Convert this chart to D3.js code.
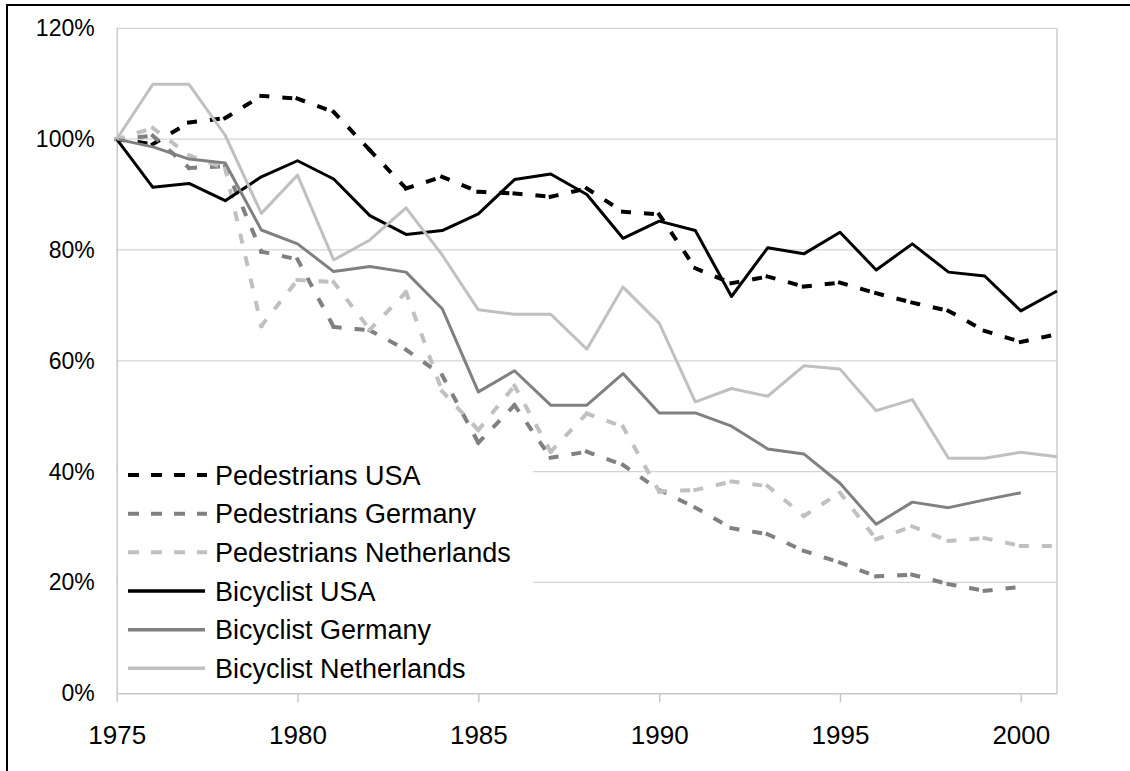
<!DOCTYPE html>
<html>
<head>
<meta charset="utf-8">
<script src="https://cdn.jsdelivr.net/npm/d3@7"></script>
<style>
  html, body { margin: 0; padding: 0; background: #fff; }
  svg { display: block; font-family: "Liberation Sans", Arial, sans-serif; }
</style>
</head>
<body>
<svg id="chart" width="1130" height="771"></svg>
<script>
// ---------- data ----------
const years = [1975,1976,1977,1978,1979,1980,1981,1982,1983,1984,1985,1986,1987,1988,1989,1990,1991,1992,1993,1994,1995,1996,1997,1998,1999,2000,2001];

const pedestriansUSA = [100, 99.1, 103.0, 103.8, 107.8, 107.3, 104.9, 98.0, 91.1, 93.2, 90.5, 90.2, 89.6, 91.1, 86.9, 86.4, 76.7, 74.0, 75.2, 73.4, 74.1, 72.2, 70.5, 69.0, 65.4, 63.4, 64.8];
const pedestriansGermany = [100, 100.6, 94.8, 95.1, 79.7, 78.3, 66.1, 65.5, 62.0, 57.4, 45.2, 52.0, 42.5, 43.6, 41.2, 36.7, 33.5, 29.8, 28.7, 25.7, 23.6, 21.1, 21.4, 19.7, 18.5, 19.2, null];
const pedestriansNetherlands = [100, 102.0, 97.1, 94.7, 66.3, 74.6, 74.2, 65.6, 72.4, 54.5, 47.5, 55.5, 43.6, 50.5, 48.1, 36.4, 36.7, 38.2, 37.4, 32.0, 36.2, 27.8, 30.1, 27.5, 28.0, 26.6, 26.6];
const bicyclistUSA = [100, 91.3, 92.0, 88.9, 93.2, 96.1, 92.8, 86.2, 82.8, 83.5, 86.5, 92.7, 93.7, 90.0, 82.1, 85.2, 83.5, 71.6, 80.4, 79.3, 83.2, 76.4, 81.1, 76.0, 75.3, 69.0, 72.6];
const bicyclistGermany = [100, 98.6, 96.4, 95.7, 83.6, 81.1, 76.1, 77.0, 76.0, 69.4, 54.4, 58.2, 52.0, 52.0, 57.7, 50.6, 50.6, 48.2, 44.1, 43.2, 37.9, 30.5, 34.5, 33.5, 34.9, 36.2, null];
const bicyclistNetherlands = [100, 109.9, 109.9, 100.7, 86.6, 93.5, 78.2, 81.8, 87.6, 79.1, 69.2, 68.4, 68.4, 62.1, 73.3, 66.8, 52.6, 55.0, 53.6, 59.1, 58.5, 51.0, 53.0, 42.4, 42.4, 43.5, 42.7];

const seriesNames = ["Pedestrians USA", "Pedestrians Germany", "Pedestrians Netherlands", "Bicyclist USA", "Bicyclist Germany", "Bicyclist Netherlands"];
const xTickValues = [1975, 1980, 1985, 1990, 1995, 2000];
const xTickLabels = ["1975", "1980", "1985", "1990", "1995", "2000"];
const yTickValues = [0, 20, 40, 60, 80, 100, 120];
const yTickLabels = ["0%", "20%", "40%", "60%", "80%", "100%", "120%"];

// ---------- styling ----------
const seriesStyle = [
  { color: "#000000", dashed: true },
  { color: "#808080", dashed: true },
  { color: "#c0c0c0", dashed: true },
  { color: "#000000", dashed: false },
  { color: "#808080", dashed: false },
  { color: "#c0c0c0", dashed: false }
];
const seriesValues = [pedestriansUSA, pedestriansGermany, pedestriansNetherlands, bicyclistUSA, bicyclistGermany, bicyclistNetherlands];

const svg = d3.select("#chart");

// outer frame
svg.append("rect").attr("x", 7).attr("y", 5).attr("width", 1140).attr("height", 790)
  .attr("fill", "#fff").attr("stroke", "#000").attr("stroke-width", 2);

const plotLeft = 116.7, plotRight = 1057, plotTop = 28.3, plotBottom = 693.3;
const x = d3.scaleLinear().domain([1975, 2001]).range([plotLeft, plotRight]);
const y = d3.scaleLinear().domain([0, 120]).range([plotBottom, plotTop]);

// gridlines
svg.append("g").selectAll("line").data(yTickValues.filter(v => v > 0)).join("line")
  .attr("x1", plotLeft).attr("x2", plotRight)
  .attr("y1", d => y(d)).attr("y2", d => y(d))
  .attr("stroke", "#d4d4d4").attr("stroke-width", 1.2);

// right plot border
svg.append("line").attr("x1", plotRight).attr("x2", plotRight).attr("y1", plotTop).attr("y2", plotBottom)
  .attr("stroke", "#d9d9d9").attr("stroke-width", 2);

// x axis
const xAxis = svg.append("g").attr("transform", `translate(0,${plotBottom})`)
  .call(d3.axisBottom(x).tickValues(xTickValues).tickSize(9).tickSizeOuter(0).tickPadding(23)
    .tickFormat((d, i) => xTickLabels[i]));
xAxis.select(".domain").attr("stroke", "#c8c8c8").attr("stroke-width", 1.5);
xAxis.selectAll(".tick line").attr("stroke", "#c8c8c8").attr("stroke-width", 1.5);
xAxis.selectAll("text").attr("font-size", 26).attr("fill", "#000")
  .attr("font-family", "Liberation Sans, Arial, sans-serif");

// y axis
const yAxis = svg.append("g").attr("transform", `translate(${plotLeft},0)`)
  .call(d3.axisLeft(y).tickValues(yTickValues).tickSize(0).tickPadding(22)
    .tickFormat((d, i) => yTickLabels[i]));
yAxis.select(".domain").attr("stroke", "#c8c8c8").attr("stroke-width", 1.5);
yAxis.selectAll("text").attr("font-size", 23).attr("fill", "#000")
  .attr("font-family", "Liberation Sans, Arial, sans-serif");

// lines
const line = d3.line()
  .defined(d => d.v !== null)
  .x(d => x(d.year)).y(d => y(d.v));

seriesValues.forEach((vals, i) => {
  const st = seriesStyle[i];
  const pts = years.map((yr, j) => ({ year: yr, v: vals[j] }));
  if (!st.dashed) {
    svg.append("path").datum(pts)
      .attr("fill", "none")
      .attr("stroke", st.color)
      .attr("stroke-width", 3)
      .attr("stroke-linejoin", "round")
      .attr("d", line);
  } else {
    // dash pattern restarts at each data point, like the source spreadsheet
    const segs = d3.pairs(pts).filter(([a, b]) => a.v !== null && b.v !== null);
    svg.append("g").selectAll("path").data(segs).join("path")
      .attr("fill", "none")
      .attr("stroke", st.color)
      .attr("stroke-width", 4)
      .attr("stroke-linecap", "square")
      .attr("stroke-dasharray", "6,17")
      .attr("d", d => line(d));
  }
});

// legend
const legend = svg.append("g");
legend.append("rect").attr("x", 118).attr("y", 452).attr("width", 415).attr("height", 236).attr("fill", "#fff");
const rowY0 = 475, rowStep = 38.67;
seriesNames.forEach((name, i) => {
  const st = seriesStyle[i];
  const ry = rowY0 + i * rowStep;
  legend.append("line").attr("x1", st.dashed ? 130 : 128).attr("x2", 205).attr("y1", ry).attr("y2", ry)
    .attr("stroke", st.color).attr("stroke-width", st.dashed ? 4 : 3.5)
    .attr("stroke-linecap", st.dashed ? "square" : "butt")
    .attr("stroke-dasharray", st.dashed ? "7,16" : null);
  legend.append("text").attr("x", 215).attr("y", ry + 9.6)
    .attr("font-size", 27).attr("fill", "#000").text(name);
});
</script>
</body>
</html>
